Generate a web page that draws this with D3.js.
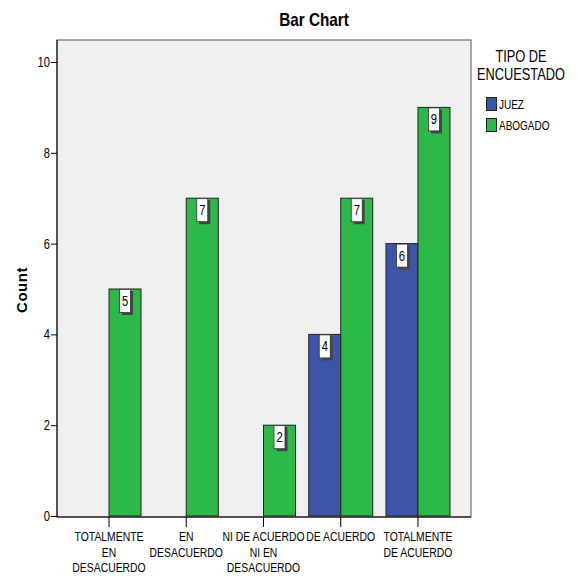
<!DOCTYPE html>
<html><head><meta charset="utf-8">
<script src="https://cdn.jsdelivr.net/npm/d3@7"></script>
<style>
body{margin:0;background:#fff;}
text{font-family:"Liberation Sans",Arial,sans-serif;fill:#000;}
</style></head>
<body>
<svg id="c" width="578" height="576"></svg>
<script>
const categories = [
  ["TOTALMENTE","EN","DESACUERDO"],
  ["EN","DESACUERDO"],
  ["NI DE ACUERDO","NI EN","DESACUERDO"],
  ["DE ACUERDO"],
  ["TOTALMENTE","DE ACUERDO"]
];
const catKeys = ["TD","ED","NN","DA","TA"];
const seriesNames = ["JUEZ","ABOGADO"];
const juez =    [0, 0, 0, 4, 6];
const abogado = [5, 7, 2, 7, 9];
const yTicks = [0,2,4,6,8,10];
const colors = ["#3d55a8","#2db84a"];

const SX = 0.8; // horizontal condensing (narrow font look)
const svg = d3.select("#c");
const frame = {left:57, right:471, top:40, bottom:517};

function ntext(parent, x, y, str, size, anchor, weight, sx){
  return parent.append("text")
    .attr("transform",`translate(${x},${y}) scale(${sx||SX},1)`)
    .attr("text-anchor",anchor||"start")
    .style("font-size",size+"px").style("font-weight",weight||"normal")
    .text(str);
}

svg.append("rect").attr("x",frame.left).attr("y",frame.top)
  .attr("width",frame.right-frame.left).attr("height",frame.bottom-frame.top)
  .attr("fill","#f0f0f0").attr("stroke","#555").attr("stroke-width",1);

const y = d3.scaleLinear().domain([0,10]).range([516,62]);
const x0 = d3.scaleBand().domain(catKeys).range([70.4,456.6]).paddingInner(0).paddingOuter(0);
const bw = 32;

// title
ntext(svg, 314, 26, "Bar Chart", 18, "middle", "bold", 0.85);

// y axis
const yAxis = svg.append("g").attr("transform",`translate(${frame.left},0)`)
  .call(d3.axisLeft(y).tickValues(yTicks).tickSize(6).tickFormat(""));
yAxis.select(".domain").remove();
yAxis.selectAll("line").attr("stroke","#000");
yTicks.forEach(t=>{
  ntext(svg, frame.left-7, y(t)+5, d3.format("d")(t), 14, "end");
});
svg.append("line").attr("x1",frame.left).attr("x2",frame.left).attr("y1",frame.top).attr("y2",frame.bottom)
  .attr("stroke","#000");
svg.append("line").attr("x1",frame.left).attr("x2",frame.right).attr("y1",frame.bottom).attr("y2",frame.bottom)
  .attr("stroke","#000");

// y label
svg.append("text").attr("transform","translate(27,290) rotate(-90)").attr("text-anchor","middle")
  .style("font-size","15px").style("font-weight","bold")
  .style("letter-spacing","0.5px").text("Count");

// x axis ticks
const xAxisG = svg.append("g").attr("transform",`translate(0,${frame.bottom})`)
  .call(d3.axisBottom(x0).tickSize(10).tickFormat(""));
xAxisG.select(".domain").remove();
xAxisG.selectAll("line").attr("stroke","#000");
catKeys.forEach((k,i)=>{
  const cx = x0(k)+x0.bandwidth()/2;
  categories[i].forEach((line,j)=>{
    ntext(svg, cx, 541 + j*15.5, line, 13, "middle");
  });
});

// bars
const data = catKeys.map((k,i)=>({k, vals:[juez[i],abogado[i]]}));
data.forEach(d=>{
  const cx = x0(d.k)+x0.bandwidth()/2;
  d.vals.forEach((v,s)=>{
    if(!v) return;
    const bx = cx + (s===0?-bw:0);
    svg.append("rect").attr("x",bx).attr("y",y(v)).attr("width",bw).attr("height",y(0)-y(v))
      .attr("fill",colors[s]).attr("stroke","#222").attr("stroke-width",1);
    const lx = bx+bw/2;
    svg.append("rect").attr("x",lx-5+2).attr("y",y(v)+2).attr("width",11).attr("height",24)
      .attr("fill","#444");
    svg.append("rect").attr("x",lx-5.5).attr("y",y(v)+0.5).attr("width",11).attr("height",23)
      .attr("fill","#fff").attr("stroke","#333").attr("stroke-width",0.8);
    ntext(svg, lx, y(v)+17, String(v), 14, "middle");
  });
});

// legend
ntext(svg, 521, 62, "TIPO DE", 16, "middle");
ntext(svg, 521, 80, "ENCUESTADO", 16, "middle");
seriesNames.forEach((n,i)=>{
  const ly = 97 + i*21;
  svg.append("rect").attr("x",486.5).attr("y",ly+0.5).attr("width",10).attr("height",13)
    .attr("fill",colors[i]).attr("stroke","#222").attr("stroke-width",1);
  ntext(svg, 499, ly+12, n, 12.5, "start");
});
</script>
</body></html>
